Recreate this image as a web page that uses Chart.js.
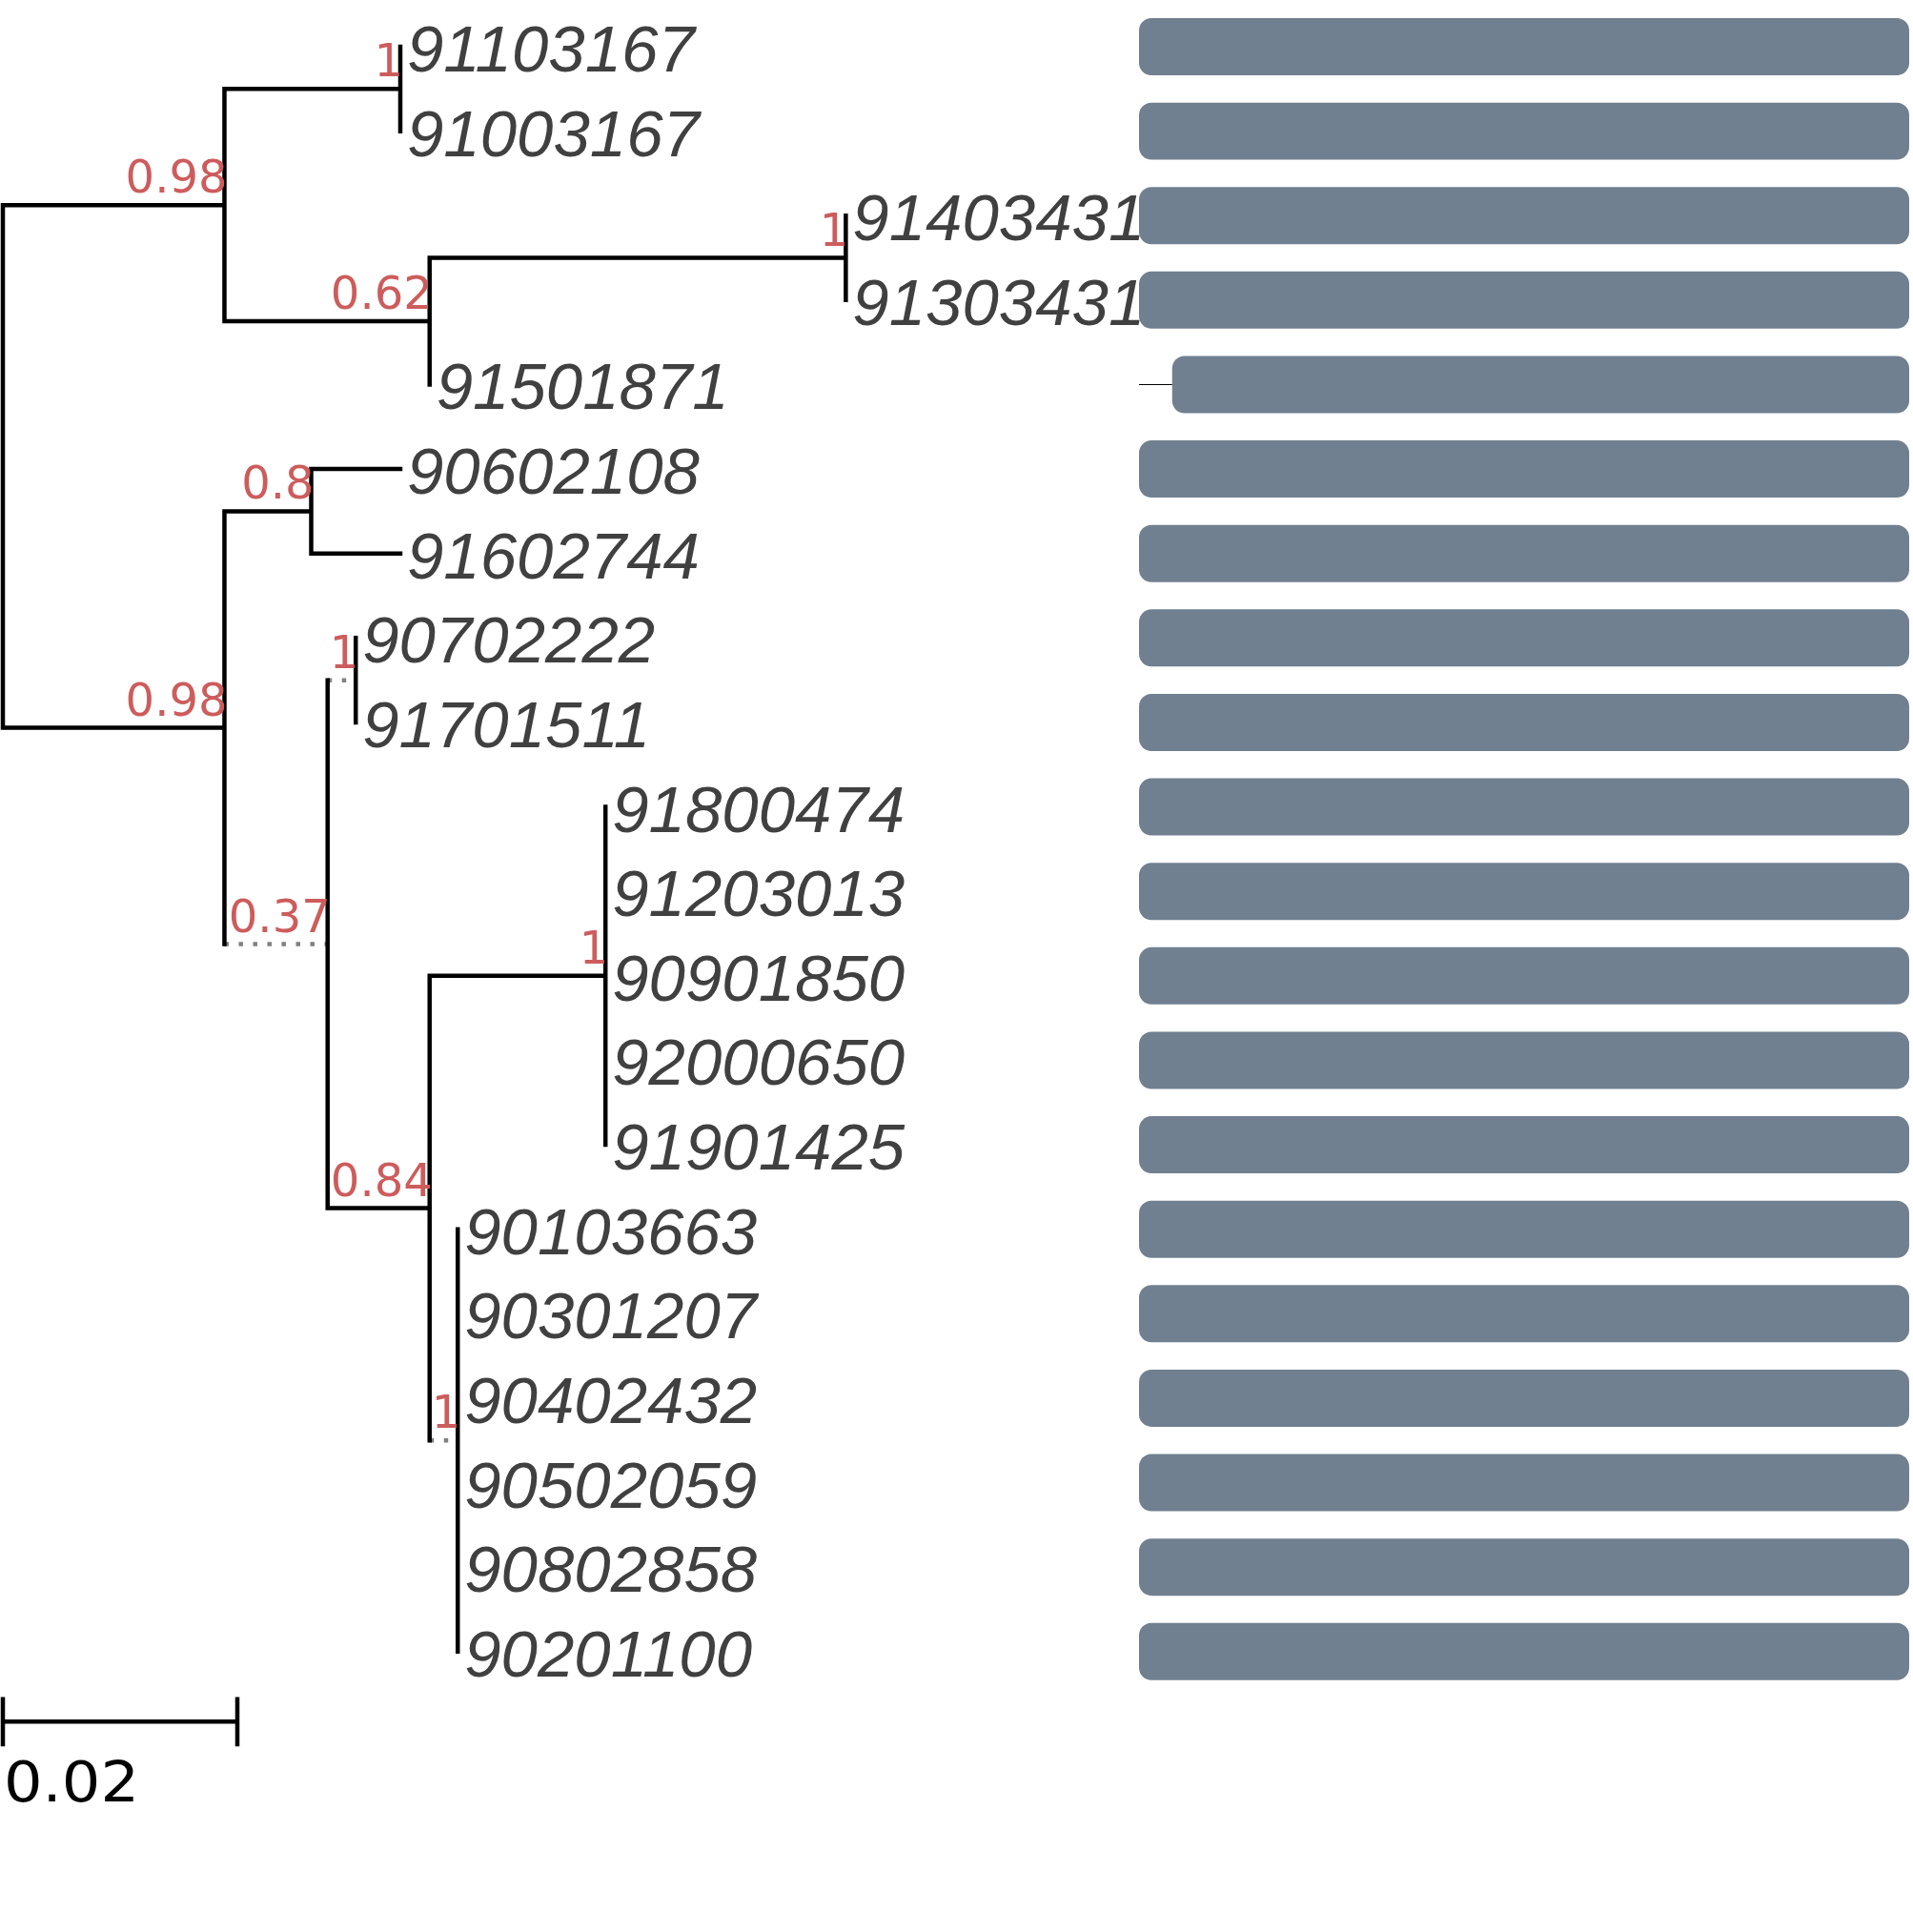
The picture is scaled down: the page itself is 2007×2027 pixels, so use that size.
<!DOCTYPE html>
<html><head><meta charset="utf-8">
<script src="https://cdn.jsdelivr.net/npm/chart.js@4/dist/chart.umd.min.js"></script>
<style>html,body{margin:0;padding:0;background:#fff}#wrap{width:2007px;height:2027px;position:relative}</style>
</head><body><div id="wrap"><canvas id="c"></canvas></div>
<script>
// ---- data ----
const tipLabels = ['91103167','91003167','91403431','91303431','91501871','90602108','91602744','90702222','91701511','91800474','91203013','90901850','92000650','91901425','90103663','90301207','90402432','90502059','90802858','90201100'];
const tipParent = [2,2,4,4,3,6,6,8,8,10,10,10,10,10,11,11,11,11,11,11];
const tipBranch = [0,0,0,0,0,0.0076,0.0076,0,0,0,0,0,0,0,0,0,0,0,0,0];
const nodeNames = ['root','A','B','C','D','F','E','G','H','J','I','K'];
const nodeParent = [-1,0,1,1,3,0,5,5,7,7,9,9];
const nodeBranch = [0,0.0189,0.0150,0.0175,0.0355,0.0189,0.0074,0.0088,0.0024,0.0087,0.0150,0.0024];
const nodeSupport = [null,'0.98','1','0.62','1','0.98','0.8','0.37','1','0.84','1','1'];
const nodeDotted = [false,false,false,false,false,false,false,true,true,false,false,true];
const barStart = [0,0,0,0,4.3,0,0,0,0,0,0,0,0,0,0,0,0,0,0,0];
const barEnd = [100,100,100,100,100,100,100,100,100,100,100,100,100,100,100,100,100,100,100,100];
const scaleBarLength = 0.02;
const scaleBarLabel = '0.02';

// ---- tree layout from data ----
const nTips = tipLabels.length;
const nodeDepth = [];
nodeParent.forEach((p,i)=>{ nodeDepth[i] = (p<0?0:nodeDepth[p]) + nodeBranch[i]; });
const nodeY = [], nodeMinY = [], nodeMaxY = [];
for (let i = nodeParent.length-1; i>=0; i--) {
  const ys = [];
  tipParent.forEach((p,t)=>{ if(p===i) ys.push(t); });
  nodeParent.forEach((p,n)=>{ if(p===i) ys.push(nodeY[n]); });
  nodeMinY[i] = Math.min(...ys); nodeMaxY[i] = Math.max(...ys);
  nodeY[i] = (nodeMinY[i]+nodeMaxY[i])/2;
}
const BR = {x:null,y:null};
const solid = [], dotted = [];
nodeParent.forEach((p,i)=>{
  solid.push({x:nodeDepth[i],y:nodeMinY[i]},{x:nodeDepth[i],y:nodeMaxY[i]},BR);
  if (p>=0) {
    const seg = [{x:nodeDepth[p],y:nodeY[i]},{x:nodeDepth[i],y:nodeY[i]},BR];
    (nodeDotted[i]?dotted:solid).push(...seg);
  }
});
tipParent.forEach((p,t)=>{
  if (tipBranch[t]>0) solid.push({x:nodeDepth[p],y:t},{x:nodeDepth[p]+tipBranch[t],y:t},BR);
});
const scaleBarY = nTips - 1 + 0.83;
const scaleTick = 0.293;
const scaleBar = [
  {x:0,y:scaleBarY},{x:scaleBarLength,y:scaleBarY},BR,
  {x:0,y:scaleBarY-scaleTick},{x:0,y:scaleBarY+scaleTick},BR,
  {x:scaleBarLength,y:scaleBarY-scaleTick},{x:scaleBarLength,y:scaleBarY+scaleTick}
];
const leadLines = [];
barStart.forEach((s,i)=>{ if(s>0) leadLines.push({x:0,y:i},{x:s,y:i},BR); });

const labelPlugin = {
  id:'treeLabels',
  afterDatasetsDraw(chart){
    const ctx = chart.ctx, xs = chart.scales.x, ys = chart.scales.y;
    ctx.save();
    ctx.font = "italic 69px 'Liberation Sans', Arial, sans-serif";
    ctx.fillStyle = '#404040'; ctx.textAlign = 'left'; ctx.textBaseline = 'alphabetic';
    tipLabels.forEach((t,i)=>{
      const d = nodeDepth[tipParent[i]] + tipBranch[i];
      ctx.fillText(t, xs.getPixelForValue(d)+7, ys.getPixelForValue(i)+26);
    });
    ctx.font = "48px 'DejaVu Sans', sans-serif";
    ctx.fillStyle = '#CD5C5C'; ctx.textAlign = 'right';
    nodeSupport.forEach((s,i)=>{
      if (s==null) return;
      ctx.fillText(s, xs.getPixelForValue(nodeDepth[i])+3, ys.getPixelForValue(nodeY[i])-13);
    });
    ctx.font = "58px 'DejaVu Sans', sans-serif";
    ctx.fillStyle = '#000'; ctx.textAlign = 'left';
    ctx.translate(xs.getPixelForValue(0)+1, ys.getPixelForValue(scaleBarY)+84);
    ctx.scale(1.1, 1);
    ctx.fillText(scaleBarLabel, 0, 0);
    ctx.restore();
  }
};

const lineBase = {type:'line', xAxisID:'x', yAxisID:'y', pointRadius:0, pointHoverRadius:0, fill:false, spanGaps:false, tension:0};
new Chart(document.getElementById('c'), {
  type:'line',
  data:{ datasets:[
    {...lineBase, data:solid, borderColor:'#000', borderWidth:4.5, borderCapStyle:'square', borderJoinStyle:'miter'},
    {...lineBase, data:dotted, borderColor:'#808080', borderWidth:4.5, borderCapStyle:'butt', borderDash:[4.5,10.5]},
    {...lineBase, data:scaleBar, borderColor:'#000', borderWidth:4.5, borderCapStyle:'butt'},
    {...lineBase, xAxisID:'xb', data:leadLines, borderColor:'#000', borderWidth:1.2},
    {type:'bar', indexAxis:'y', xAxisID:'xb', yAxisID:'y', grouped:false,
     data: tipLabels.map((_,i)=>({x:[barStart[i],barEnd[i]], y:i})),
     backgroundColor:'#708090', borderWidth:0, borderRadius:13, borderSkipped:false,
     barPercentage:0.677, categoryPercentage:1}
  ]},
  options:{
    responsive:true, maintainAspectRatio:false, animation:false,
    layout:{padding:0},
    plugins:{legend:{display:false}, tooltip:{enabled:false}},
    events:[],
    scales:{
      x:{type:'linear', position:'bottom', display:false, min:-3/12300, max:2004/12300},
      xb:{type:'linear', position:'bottom', display:false, min:-1195/8.08, max:812/8.08},
      y:{type:'linear', position:'left', display:false, reverse:true, offset:false,
         min:-0.553, max:-0.553+2027/88.62,
         afterBuildTicks(scale){ scale.ticks = tipLabels.map((_,i)=>({value:i})); }}
    }
  },
  plugins:[labelPlugin]
});
</script></body></html>
